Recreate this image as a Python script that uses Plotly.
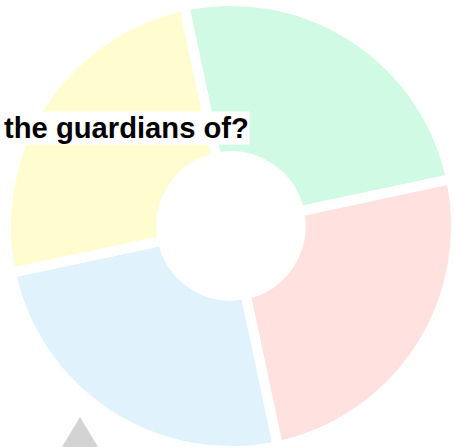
import plotly.graph_objects as go

# Data
labels = ["Option 1", "Option 2", "Option 3", "Option 4"]
values = [1, 1, 1, 1]
colors = ["#D1FAE5", "#FFE2DF", "#E0F3FD", "#FFFCCF"]
question = "the guardians of?"

W, H = 460, 452          # figure slightly larger than the 454x447 window (cropped)
cx, cy, R = 231, 226, 225

fig = go.Figure(go.Pie(
    labels=labels,
    values=values,
    sort=False,
    direction="clockwise",
    rotation=-12,
    hole=0.31,
    textinfo="none",
    marker=dict(colors=colors, line=dict(color="white", width=10)),
    domain=dict(x=[(cx - R) / W, (cx + R) / W], y=[1 - (cy + R) / H, 1 - (cy - R) / H]),
    showlegend=False,
))

# pointer triangle
ax, ay = 80 / W, 1 - 417 / H
fig.add_shape(type="path", xref="paper", yref="paper",
              path=f"M {ax},{ay} L {59 / W},0 L {101 / W},0 Z",
              fillcolor="#D3D3D3", line=dict(width=0), layer="above")

fig.add_annotation(
    text=f"<b>{question}</b>", x=126.5 / W, y=1 - 128 / H, xref="paper", yref="paper",
    xanchor="center", yanchor="middle", showarrow=False,
    font=dict(family="Liberation Sans, Arial", size=29.2, color="black"),
    bgcolor="white", borderpad=0,
)

fig.update_layout(
    width=W, height=H,
    margin=dict(l=0, r=0, t=0, b=0),
    paper_bgcolor="white", plot_bgcolor="white",
)

fig.write_html("out.html", config={"displayModeBar": False},
               post_script="document.body.style.margin='0px';")
